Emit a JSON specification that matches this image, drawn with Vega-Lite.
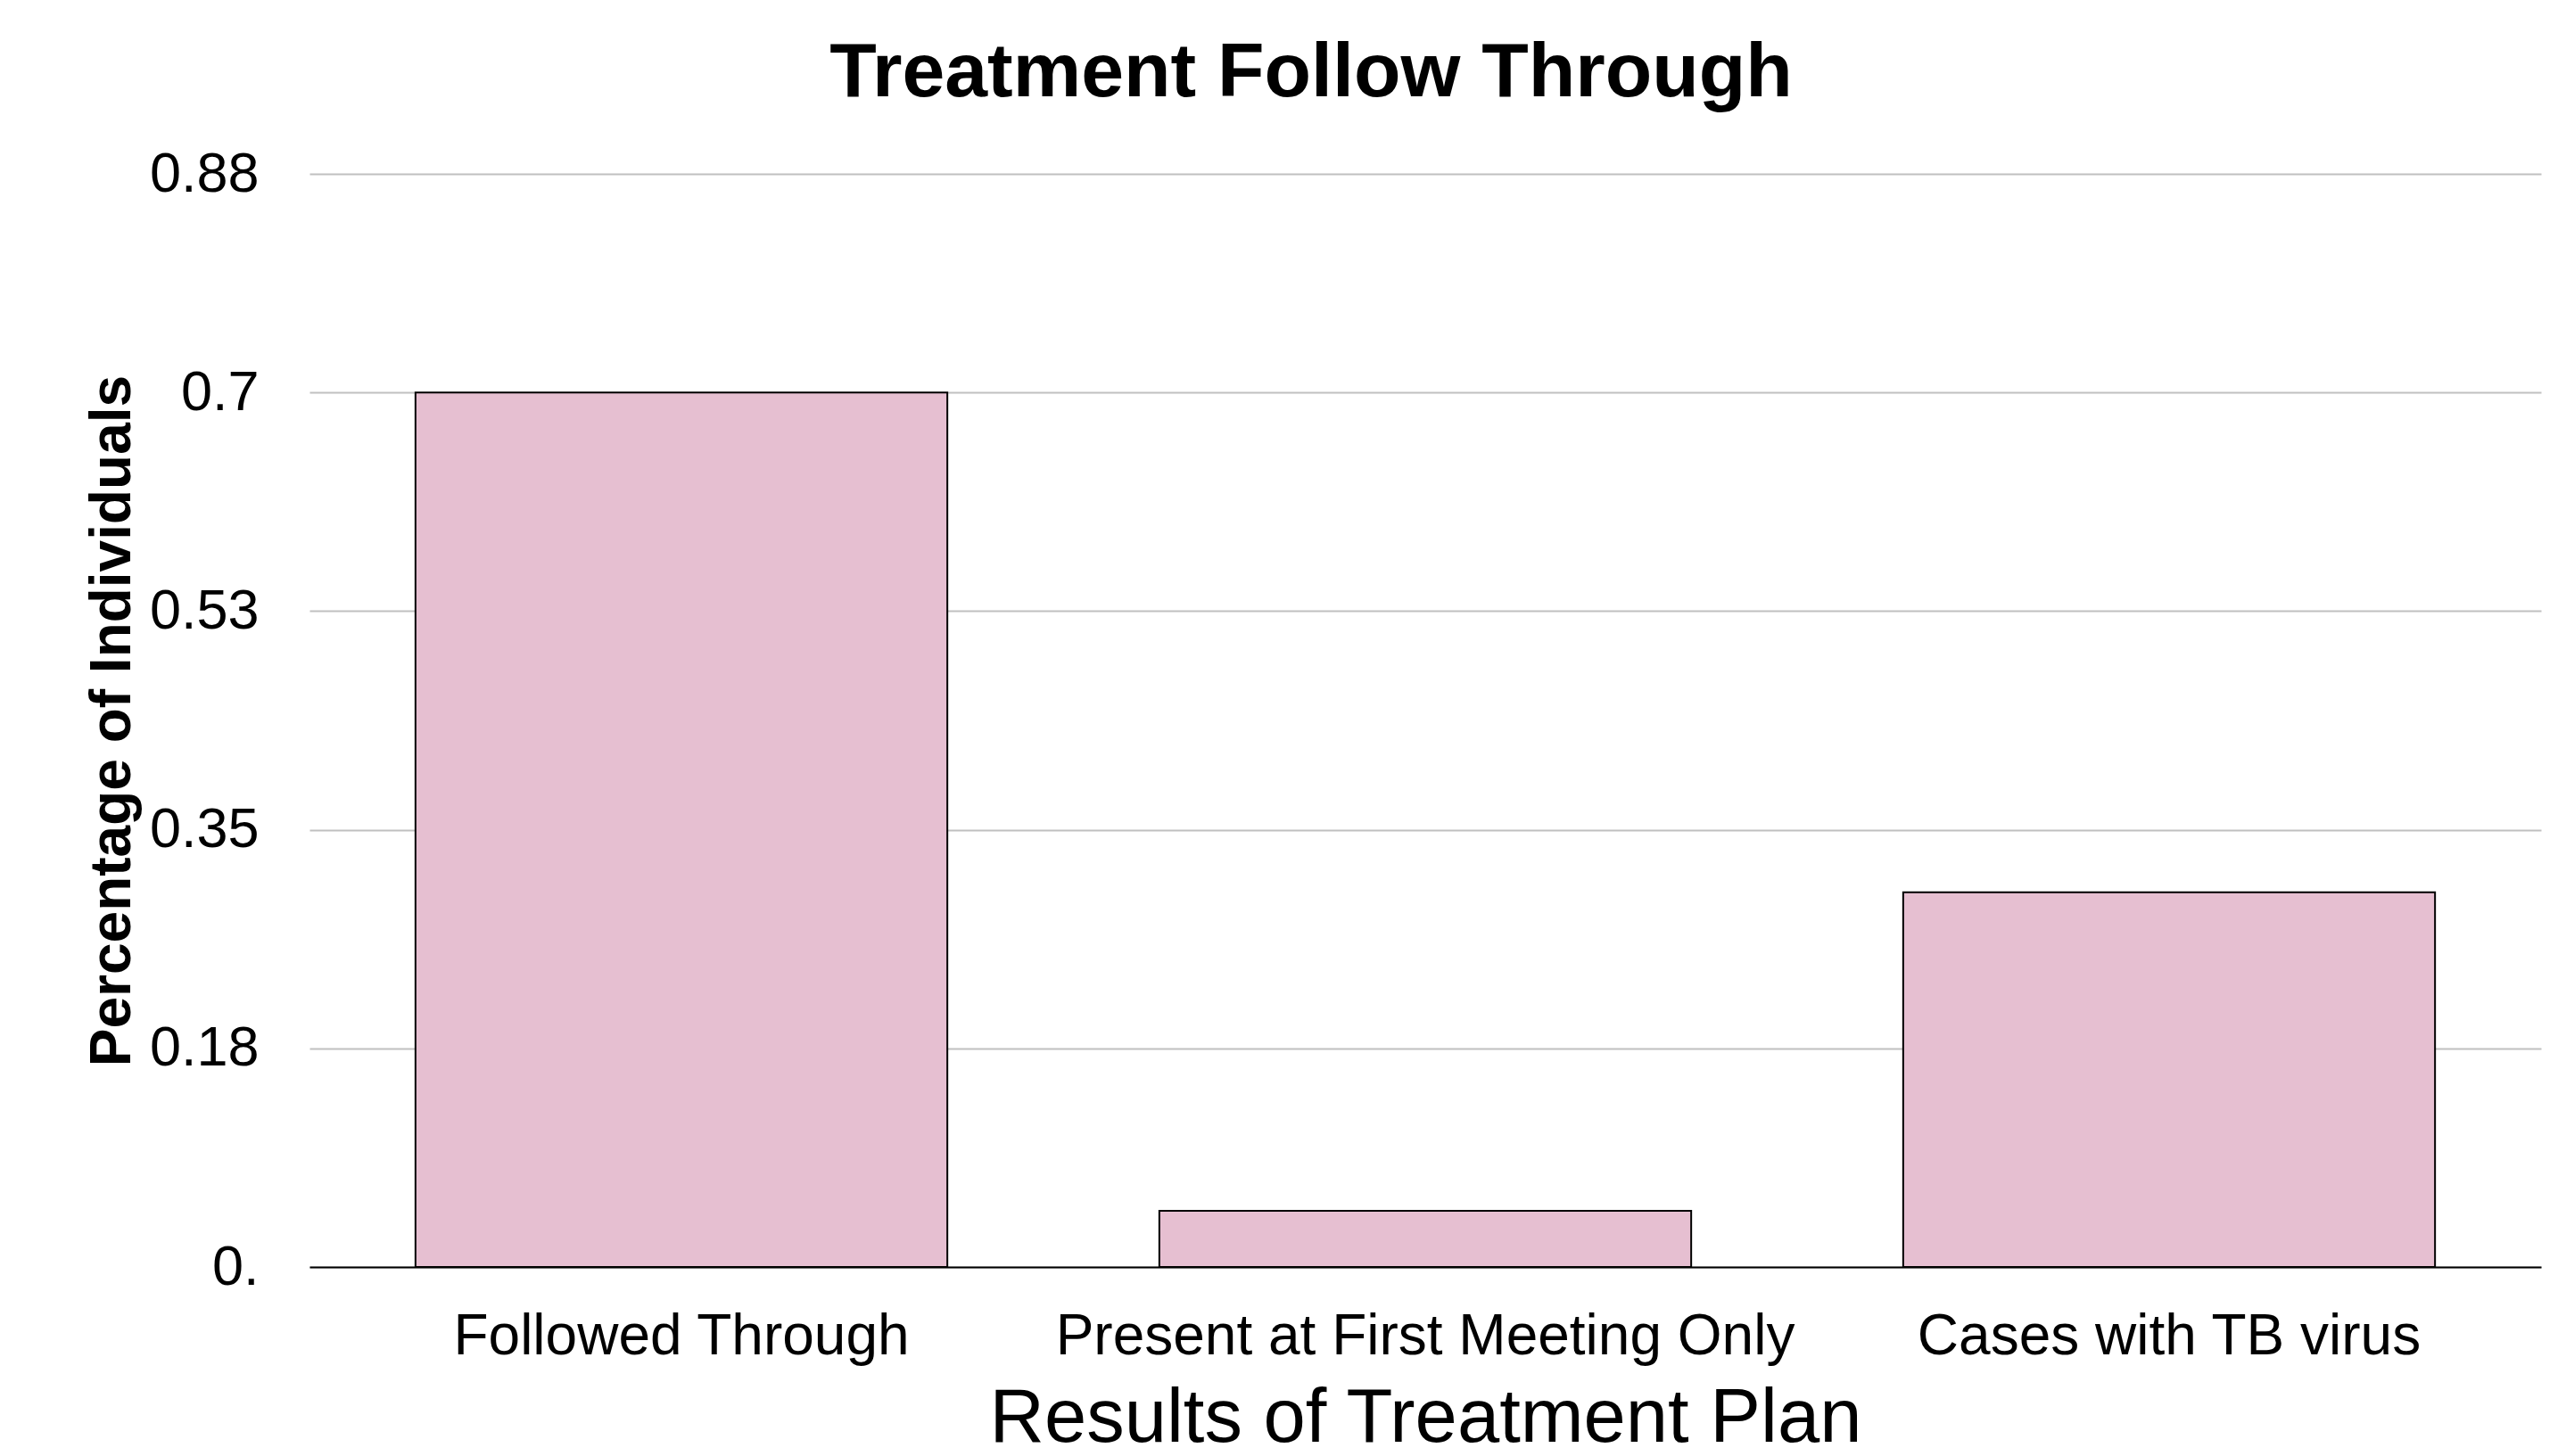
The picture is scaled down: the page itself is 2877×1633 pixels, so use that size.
{
  "$schema": "https://vega.github.io/schema/vega-lite/v6.json",
  "width": 2502,
  "height": 1226,
  "autosize": "none",
  "padding": {"left": 347, "top": 195, "right": 28, "bottom": 212},
  "background": "white",
  "title": {
    "text": "Treatment Follow Through",
    "font": "Liberation Sans",
    "fontSize": 86,
    "fontWeight": "bold",
    "color": "black",
    "anchor": "middle",
    "baseline": "alphabetic",
    "offset": -30,
    "dx": -128
  },
  "data": {
    "values": [
      {"category": "Followed Through", "value": 0.7},
      {"category": "Present at First Meeting Only", "value": 0.045},
      {"category": "Cases with TB virus", "value": 0.3}
    ]
  },
  "mark": {"type": "bar", "fill": "#E6BFD1", "stroke": "black", "strokeWidth": 2},
  "encoding": {
    "x": {
      "field": "category",
      "type": "nominal",
      "sort": null,
      "scale": {"paddingInner": 0.285, "paddingOuter": 0.1425},
      "axis": {
        "title": "Results of Treatment Plan",
        "titleFont": "Liberation Sans",
        "titleFontSize": 85,
        "titleFontWeight": "normal",
        "titleColor": "black",
        "titlePadding": 18,
        "labelFont": "Liberation Sans",
        "labelFontSize": 64,
        "labelColor": "black",
        "labelAngle": 0,
        "labelPadding": 46,
        "labelLimit": 0,
        "ticks": false,
        "domain": true,
        "domainColor": "black",
        "domainWidth": 2,
        "grid": false
      }
    },
    "y": {
      "field": "value",
      "type": "quantitative",
      "scale": {"domain": [0, 0.875], "nice": false, "zero": true},
      "axis": {
        "title": "Percentage of Individuals",
        "titleFont": "Liberation Sans",
        "titleFontSize": 64,
        "titleFontWeight": "bold",
        "titleColor": "black",
        "titlePadding": 9,
        "values": [0, 0.175, 0.35, 0.525, 0.7, 0.875],
        "labelExpr": "datum.value == 0 ? '0.' : format(datum.value + 0.000000001, '.2~f')",
        "labelFont": "Liberation Sans",
        "labelFontSize": 63,
        "labelColor": "black",
        "labelPadding": 57,
        "ticks": false,
        "domain": false,
        "grid": true,
        "gridColor": "#c0c0c0",
        "gridWidth": 2
      }
    }
  },
  "config": {"view": {"stroke": null}}
}
